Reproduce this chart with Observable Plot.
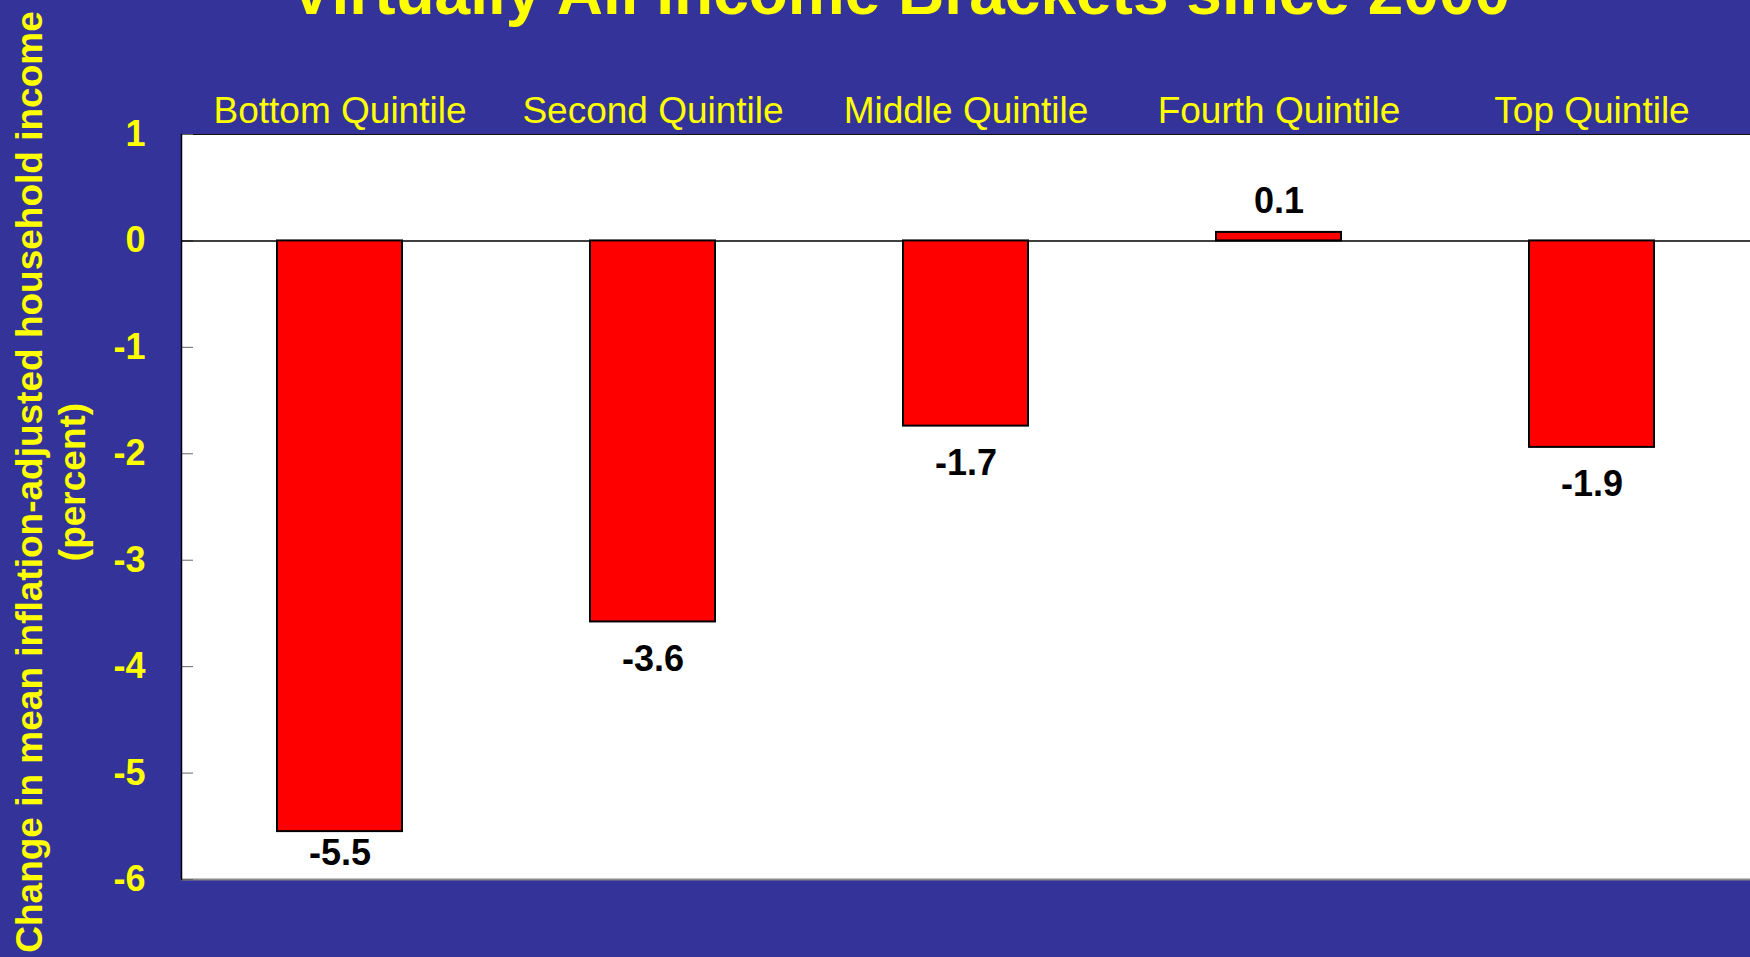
<!DOCTYPE html>
<html>
<head>
<meta charset="utf-8">
<script src="https://cdn.jsdelivr.net/npm/d3@7"></script>
<script src="https://cdn.jsdelivr.net/npm/@observablehq/plot@0.6"></script>
<style>
  html, body { margin: 0; padding: 0; background: #333399; overflow: hidden; }
  #wrap { position: relative; width: 1750px; height: 957px; overflow: hidden; background: #333399; }
  #wrap svg { position: absolute; left: 0; top: 0; }
  .title { position: absolute; left: 0; width: 1800px; top: -39px; text-align: center;
    font: bold 64px "Liberation Sans", Arial, sans-serif; line-height: 63px; color: #FFFF00; white-space: nowrap; }
  .ylab { position: absolute; width: 1000px; height: 86px; left: -449px; top: 439px;
    transform: rotate(-90deg); transform-origin: 50% 50%; text-align: center;
    font: bold 37px "Liberation Sans", Arial, sans-serif; line-height: 43px; color: #FFFF00; white-space: nowrap; }
</style>
</head>
<body>
<div id="wrap">
  <div class="title">Virtually All Income Brackets since 2000</div>
  <div class="ylab">Change in mean inflation-adjusted household income<br>(percent)</div>
</div>
<script>
const quintiles = ["Bottom Quintile", "Second Quintile", "Middle Quintile", "Fourth Quintile", "Top Quintile"];
const values = [-5.55, -3.58, -1.74, 0.08, -1.94];
const valueLabels = ["-5.5", "-3.6", "-1.7", "0.1", "-1.9"];
const yTicks = [1, 0, -1, -2, -3, -4, -5, -6];

const data = quintiles.map((q, i) => ({q, v: values[i], label: valueLabels[i]}));
const font = "'Liberation Sans', Arial, sans-serif";
const W = 1750, ML = 181, MR = 0, tickLen = 12;

const chart = Plot.plot({
  width: W,
  height: 957,
  marginLeft: ML,
  marginRight: MR,
  marginTop: 134,
  marginBottom: 78,
  style: {background: "transparent", fontFamily: font, color: "#FFFF00", fontSize: "37px"},
  x: {domain: quintiles, paddingInner: 0.6, paddingOuter: 0.3, label: null, axis: "top", tickSize: 0, tickPadding: 12},
  y: {domain: [-6, 1], label: null, axis: null},
  marks: [
    Plot.frame({fill: "white", stroke: null}),
    Plot.frame({anchor: "top", stroke: "#111"}),
    Plot.frame({anchor: "bottom", stroke: "#8a8a8a", strokeWidth: 2}),
    // inward tick marks on the left edge of the plot
    Plot.ruleY(yTicks, {y: d => d, stroke: "#666", insetRight: W - ML - MR - tickLen}),
    Plot.frame({anchor: "left", stroke: "#000", strokeWidth: 1.5}),
    // y tick labels
    Plot.text(yTicks, {y: d => d, text: d => String(d), frameAnchor: "left", dx: -36, textAnchor: "end",
      fill: "#FFFF00", fontSize: 36, fontWeight: "bold"}),
    Plot.ruleY([0], {stroke: "#000", strokeWidth: 1.5}),
    Plot.barY(data, {x: "q", y: "v", fill: "#FF0000", stroke: "#000", strokeWidth: 2}),
    Plot.text(data.filter(d => d.v < 0 && d.v > -5), {x: "q", y: "v", text: "label", lineAnchor: "top", dy: 23, fontSize: 36, fontWeight: "bold", fill: "#000"}),
    Plot.text(data.filter(d => d.v <= -5), {x: "q", y: "v", text: "label", lineAnchor: "top", dy: 8, fontSize: 36, fontWeight: "bold", fill: "#000"}),
    Plot.text(data.filter(d => d.v >= 0), {x: "q", y: "v", text: "label", lineAnchor: "bottom", dy: -19, fontSize: 36, fontWeight: "bold", fill: "#000"})
  ]
});

document.getElementById("wrap").prepend(chart);
</script>
</body>
</html>
